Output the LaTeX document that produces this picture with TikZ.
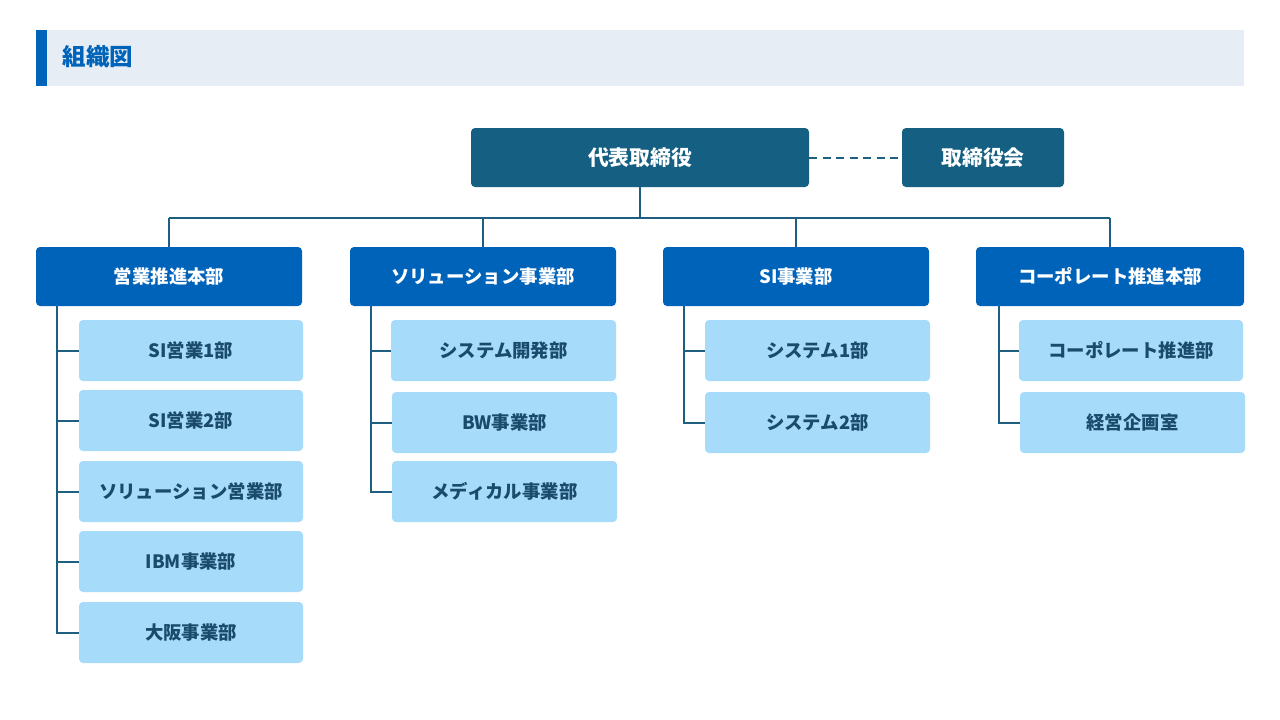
\documentclass[tikz,border=0pt]{standalone}
\usepackage{fontspec}
\setmainfont{Noto Sans CJK JP}
\definecolor{bandbg}{HTML}{E6EDF4}
\definecolor{mainblue}{HTML}{0063BA}
\definecolor{topteal}{HTML}{155F82}
\definecolor{lightbox}{HTML}{A6DBF9}
\definecolor{subtext}{HTML}{1A4B6C}
\definecolor{linecol}{HTML}{1E5E80}
\tikzset{
  topbox/.style={fill=topteal, rounded corners=4pt, inner sep=0, outer sep=0, text=white, font=\bfseries\fontsize{20.8}{24}\selectfont, anchor=north west},
  headbox/.style={fill=mainblue, rounded corners=4pt, inner sep=0, outer sep=0, text=white, font=\bfseries\fontsize{18.4}{22}\selectfont, anchor=north west, minimum height=59pt},
  subbox/.style={fill=lightbox, rounded corners=4pt, inner sep=0, outer sep=0, text=subtext, font=\bfseries\fontsize{18.4}{22}\selectfont, anchor=north west, minimum height=61pt, minimum width=224pt},
  conn/.style={draw=linecol, line width=2pt},
}
\begin{document}
\begin{tikzpicture}[x=1pt,y=-1pt]
\useasboundingbox (0,0) rectangle (1280,720);
\fill[white] (0,0) rectangle (1280,720);
% title band
\fill[bandbg] (36,30) rectangle (1244,86);
\fill[mainblue] (36,30) rectangle (47,86);
\node[anchor=west, text=mainblue, font=\bfseries\fontsize{23.5}{27}\selectfont, inner sep=0] (title) at (62.5,57) {組織図};
% top level
\node[topbox, minimum width=338pt, minimum height=59pt] (ceo) at (471,128) {代表取締役};
\node[topbox, minimum width=162pt, minimum height=59pt] (board) at (902,128) {取締役会};
\draw[conn, dashed, dash pattern=on 8pt off 5.5pt] (ceo.east) -- (board.west);
% heads
\node[headbox, minimum width=266pt] (h1) at (36,247) {営業推進本部};
\node[headbox, minimum width=266pt] (h2) at (350,247) {ソリューション事業部};
\node[headbox, minimum width=266pt] (h3) at (663,247) {SI事業部};
\node[headbox, minimum width=268pt] (h4) at (976,247) {コーポレート推進本部};
\coordinate (bus) at (640,218);
\draw[conn] (ceo.south) -- (ceo.south |- bus);
\draw[conn] (h1.north |- bus) -- (h4.north |- bus);
\draw[conn] (h1.north) -- (h1.north |- bus);
\draw[conn] (h2.north) -- (h2.north |- bus);
\draw[conn] (h3.north) -- (h3.north |- bus);
\draw[conn] (h4.north) -- (h4.north |- bus);
% column 1
\node[subbox] (s11) at (79,320) {SI営業1部};
\node[subbox] (s12) at (79,390) {SI営業2部};
\node[subbox] (s13) at (79,461) {ソリューション営業部};
\node[subbox] (s14) at (79,531) {IBM事業部};
\node[subbox] (s15) at (79,602) {大阪事業部};
\coordinate (t1) at (57,306);
\draw[conn] (t1) |- (s15.west);
\foreach \s in {s11,s12,s13,s14} \draw[conn] (t1 |- \s.west) -- (\s.west);
% column 2
\node[subbox, minimum width=225pt] (s21) at (391,320) {システム開発部};
\node[subbox, minimum width=225pt] (s22) at (392,392) {BW事業部};
\node[subbox, minimum width=225pt] (s23) at (392,461) {メディカル事業部};
\coordinate (t2) at (371,306);
\draw[conn] (t2) |- (s23.west);
\foreach \s in {s21,s22} \draw[conn] (t2 |- \s.west) -- (\s.west);
% column 3
\node[subbox, minimum width=225pt] (s31) at (705,320) {システム1部};
\node[subbox, minimum width=225pt] (s32) at (705,392) {システム2部};
\coordinate (t3) at (684,306);
\draw[conn] (t3) |- (s32.west);
\draw[conn] (t3 |- s31.west) -- (s31.west);
% column 4
\node[subbox] (s41) at (1019,320) {コーポレート推進部};
\node[subbox, minimum width=225pt] (s42) at (1020,392) {経営企画室};
\coordinate (t4) at (999,306);
\draw[conn] (t4) |- (s42.west);
\draw[conn] (t4 |- s41.west) -- (s41.west);
\end{tikzpicture}
\end{document}
